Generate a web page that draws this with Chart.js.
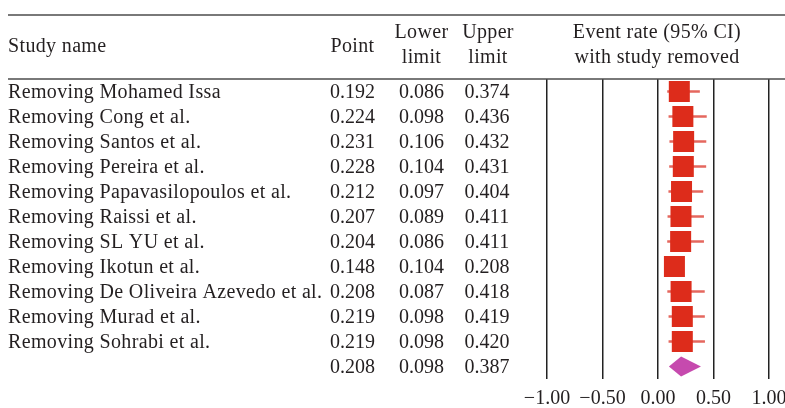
<!DOCTYPE html>
<html>
<head>
<meta charset="utf-8">
<script src="https://cdn.jsdelivr.net/npm/chart.js@4.4.1/dist/chart.umd.min.js"></script>
<style>
  body { margin: 0; background: #fff; }
  canvas { display: block; }
</style>
</head>
<body>
<canvas id="forest" width="785" height="408"></canvas>
<script>
// dados
var studies = [
  'Removing Mohamed Issa',
  'Removing Cong et al.',
  'Removing Santos et al.',
  'Removing Pereira et al.',
  'Removing Papavasilopoulos et al.',
  'Removing Raissi et al.',
  'Removing SL YU et al.',
  'Removing Ikotun et al.',
  'Removing De Oliveira Azevedo et al.',
  'Removing Murad et al.',
  'Removing Sohrabi et al.'
];
var points = [0.192, 0.224, 0.231, 0.228, 0.212, 0.207, 0.204, 0.148, 0.208, 0.219, 0.219];
var lower  = [0.086, 0.098, 0.106, 0.104, 0.097, 0.089, 0.086, 0.104, 0.087, 0.098, 0.098];
var upper  = [0.374, 0.436, 0.432, 0.431, 0.404, 0.411, 0.411, 0.208, 0.418, 0.419, 0.420];
// ponto, inferior, superior do resumo
var summary = [0.208, 0.098, 0.387];
var xTicks = [-1, -0.5, 0, 0.5, 1];

var FONT = '20px "Liberation Serif", "Times New Roman", serif';
var INK = '#231f20';

var rowLabels = studies.concat(['']);
var nRows = rowLabels.length;

var tabela = {
  id: 'tabela',
  afterDatasetsDraw: function (chart) {
    var ctx = chart.ctx, x = chart.scales.x, y = chart.scales.y;
    // losango do resumo
    var cy = y.getPixelForValue(nRows - 1);
    ctx.save();
    ctx.fillStyle = '#c64aae';
    ctx.beginPath();
    ctx.moveTo(x.getPixelForValue(summary[1]), cy);
    ctx.lineTo(x.getPixelForValue(summary[0]), cy - 10);
    ctx.lineTo(x.getPixelForValue(summary[2]), cy);
    ctx.lineTo(x.getPixelForValue(summary[0]), cy + 10);
    ctx.closePath();
    ctx.fill();
    ctx.restore();
  },
  afterDraw: function (chart) {
    var ctx = chart.ctx, y = chart.scales.y;
    ctx.save();
    // linhas do cabecalho
    ctx.strokeStyle = '#4d4d4d';
    ctx.lineWidth = 1.5;
    ctx.beginPath();
    ctx.moveTo(8, 15); ctx.lineTo(785, 15);
    ctx.moveTo(8, 79); ctx.lineTo(785, 79);
    ctx.stroke();

    ctx.font = FONT;
    ctx.fillStyle = INK;
    ctx.textBaseline = 'alphabetic';
    ctx.letterSpacing = '0.35px';
    ctx.textAlign = 'left';
    ctx.fillText('Study name', 8, 52);
    ctx.textAlign = 'center';
    ctx.fillText('Point', 352.5, 52);
    ctx.fillText('Lower', 421.5, 38);
    ctx.fillText('limit', 421.5, 63);
    ctx.fillText('Upper', 488, 38);
    ctx.fillText('limit', 488, 63);
    ctx.fillText('Event rate (95% CI)', 657, 38);
    ctx.fillText('with study removed', 657, 63);

    for (var i = 0; i < nRows; i++) {
      var py = y.getPixelForValue(i) + 6.5;
      var p = i < studies.length ? points[i] : summary[0];
      var lo = i < studies.length ? lower[i] : summary[1];
      var up = i < studies.length ? upper[i] : summary[2];
      ctx.letterSpacing = '0.35px';
      ctx.textAlign = 'left';
      ctx.fillText(rowLabels[i], 8, py);
      ctx.letterSpacing = '0px';
      ctx.textAlign = 'center';
      ctx.fillText(p.toFixed(3), 352.5, py);
      ctx.fillText(lo.toFixed(3), 421.5, py);
      ctx.fillText(up.toFixed(3), 487, py);
    }
    ctx.restore();
  }
};

var ctx = document.getElementById('forest').getContext('2d');
var chart = new Chart(ctx, {
  type: 'bar',
  data: {
    labels: rowLabels,
    datasets: [{
      type: 'scatter',
      label: 'Point',
      data: points.map(function (v, i) { return { x: v, y: i }; }),
      pointStyle: 'rect',
      pointRadius: 14.85,
      pointHoverRadius: 14.85,
      backgroundColor: '#dd2c1b',
      borderWidth: 0,
      order: 0
    }, {
      type: 'bar',
      label: 'CI',
      data: lower.map(function (v, i) { return [v, upper[i]]; }).concat([null]),
      backgroundColor: '#e5675e',
      barThickness: 2,
      borderWidth: 0,
      order: 1
    }]
  },
  options: {
    indexAxis: 'y',
    responsive: false,
    animation: false,
    events: [],
    layout: { padding: { left: 547, right: 16, top: 79, bottom: 0 } },
    plugins: {
      legend: { display: false },
      tooltip: { enabled: false }
    },
    scales: {
      x: {
        type: 'linear',
        min: -1,
        max: 1,
        afterBuildTicks: function (s) {
          s.ticks = xTicks.map(function (v) { return { value: v }; });
        },
        afterFit: function (s) {
          s.height = 29;
          s.paddingLeft = 0;
          s.paddingRight = 0;
        },
        grid: { color: '#222', lineWidth: 1.5, drawTicks: false },
        border: { display: false },
        ticks: {
          padding: 8,
          color: INK,
          font: { family: '"Liberation Serif", serif', size: 20 },
          maxRotation: 0,
          callback: function (v) { return (v < 0 ? '\u2212' : '') + Math.abs(v).toFixed(2); }
        }
      },
      y: {
        type: 'category',
        display: false,
        offset: true,
        grid: { display: false }
      }
    }
  },
  plugins: [tabela]
});
</script>
</body>
</html>
